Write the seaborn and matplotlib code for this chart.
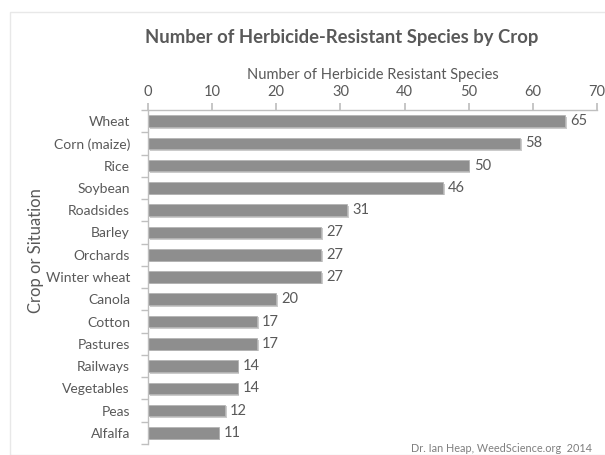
import matplotlib
matplotlib.use("Agg")
import matplotlib.pyplot as plt
import matplotlib.patheffects as pe
from matplotlib.patches import Rectangle
import seaborn as sns
import pandas as pd
import numpy as np

categories = ["Wheat", "Corn (maize)", "Rice", "Soybean", "Roadsides", "Barley",
              "Orchards", "Winter wheat", "Canola", "Cotton", "Pastures",
              "Railways", "Vegetables", "Peas", "Alfalfa"]
values = [65, 58, 50, 46, 31, 27, 27, 27, 20, 17, 17, 14, 14, 12, 11]
xticks = [0, 10, 20, 30, 40, 50, 60, 70]

sns.set_theme(style="white")
plt.rcParams['font.family'] = ['Lato', 'DejaVu Sans']
txt = "#595959"
spine_c = "#bfbfbf"

df = pd.DataFrame({"crop": categories, "n": values})

fig = plt.figure(figsize=(6.05, 4.55), dpi=100)
fig.patches.append(Rectangle((10/605, 0), 1, 1 - 12/455, transform=fig.transFigure,
                             fill=False, edgecolor="#e8e8e8", linewidth=1.0))
ax = fig.add_axes([148/605, 1 - 444/455, (597-148)/605, (444-110)/455])

sns.barplot(data=df, y="crop", x="n", order=categories, orient="h",
            color="#8e8e8e", saturation=1, width=0.52, ax=ax)
for p in ax.patches:
    p.set_edgecolor("#b5b5b5")
    p.set_linewidth(0.6)
    p.set_path_effects([pe.SimplePatchShadow(offset=(1.2, -1.2), shadow_rgbFace="#999999", alpha=0.5),
                        pe.Normal()])

for i, v in enumerate(values):
    ax.text(v + 0.8, i, str(v), va="center", ha="left", fontsize=10.5, color=txt)

ax.set_xlim(0, 70)
ax.set_ylim(len(categories) - 0.5, -0.5)
ax.set_xticks(xticks)
ax.xaxis.tick_top()
ax.xaxis.set_label_position("top")
ax.set_xlabel("Number of Herbicide Resistant Species", fontsize=10.5, color=txt, labelpad=4)
ax.set_ylabel("Crop or Situation", fontsize=12, color=txt)
ax.yaxis.set_label_coords(-0.232, 0.58)

for s in ["right", "bottom"]:
    ax.spines[s].set_visible(False)
for s in ["top", "left"]:
    ax.spines[s].set_color(spine_c)
    ax.spines[s].set_linewidth(1.0)

ax.tick_params(axis="x", which="major", top=True, bottom=False, direction="out",
               length=5, color=spine_c, labelsize=10.5, labelcolor=txt, pad=3)
ax.set_yticks(range(len(categories)))
ax.set_yticklabels(categories)
ax.tick_params(axis="y", which="major", left=False, labelsize=10, labelcolor=txt, pad=7)
ax.set_yticks(np.arange(-0.5, len(categories), 1), minor=True)
ax.tick_params(axis="y", which="minor", left=True, direction="out", length=5, color=spine_c)
ax.grid(False)

fig.text(342/605, 1 - 37/455, "Number of Herbicide-Resistant Species by Crop",
         ha="center", va="center", fontsize=13.3, fontweight="bold", color=txt)
fig.text(592/605, 1 - 449/455, "Dr. Ian Heap, WeedScience.org  2014",
         ha="right", va="center", fontsize=7.8, color="#7f7f7f")

fig.savefig("out.png", dpi=100)
